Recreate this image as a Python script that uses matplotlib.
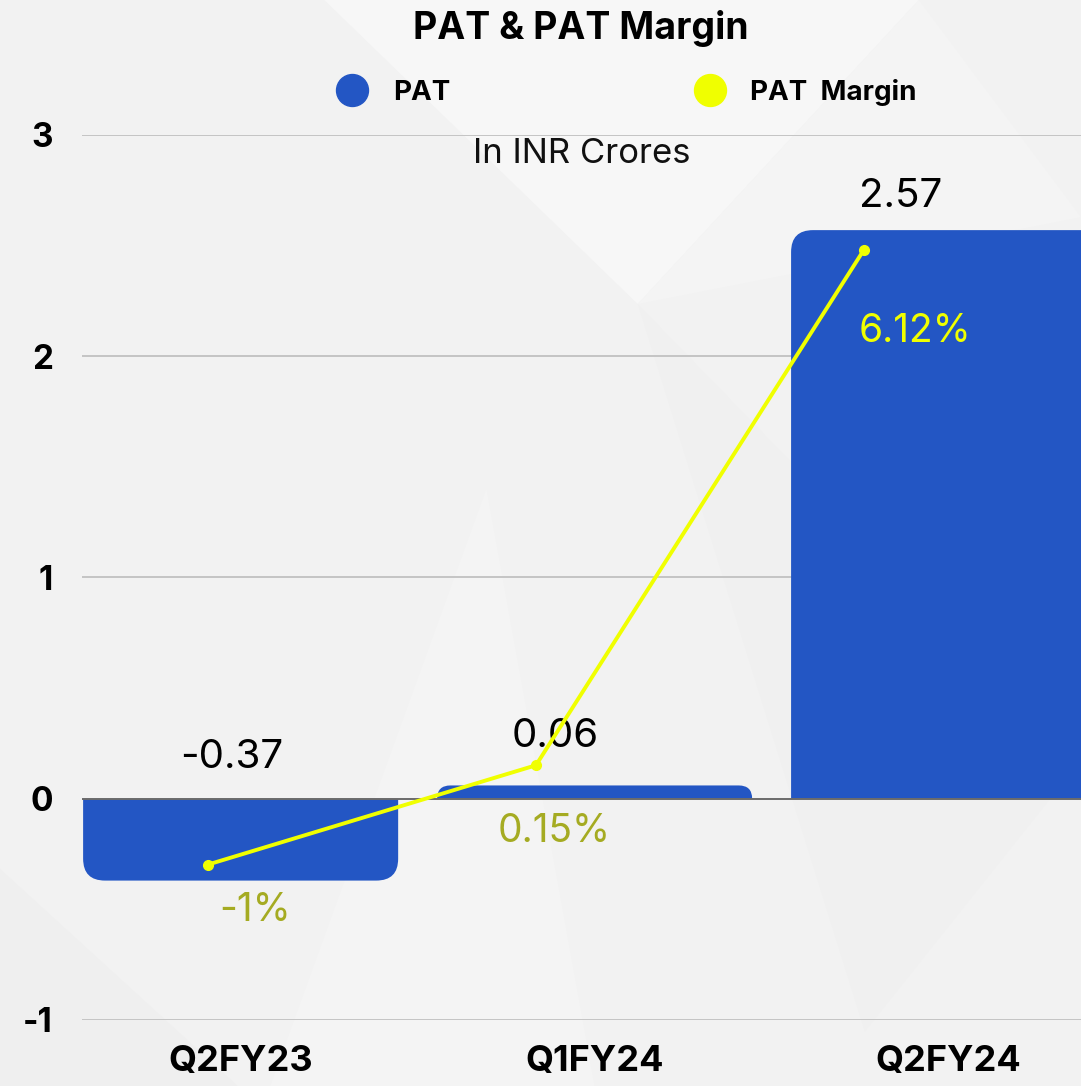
import matplotlib
matplotlib.use("Agg")
import matplotlib.pyplot as plt
from matplotlib.lines import Line2D
from matplotlib.patches import PathPatch, Polygon
from matplotlib.path import Path

# data
quarters = ["Q2FY23", "Q1FY24", "Q2FY24"]
pat = [-0.37, 0.06, 2.57]
pat_margin = [-1.0, 0.15, 6.12]
margin_labels = ["-1%", "0.15%", "6.12%"]
yticks = [-1, 0, 1, 2, 3]

BLUE = "#2356C4"
YELLOW = "#F0FF00"
OLIVE = "#A5AB22"
FONT = "Inter"

plt.rcParams["font.family"] = [FONT, "DejaVu Sans"]


def rounded_bar(ax, x, width, height, rx, ry, color):
    """Bar with rounded corners on the end away from zero."""
    s = 1 if height >= 0 else -1
    if ry > abs(height):
        rx = rx * abs(height) / ry
        ry = abs(height)
    l, r = x - width / 2, x + width / 2
    verts = [(l, 0), (l, height - s * ry), (l, height), (l + rx, height),
             (r - rx, height), (r, height), (r, height - s * ry), (r, 0), (l, 0)]
    codes = [Path.MOVETO, Path.LINETO, Path.CURVE3, Path.CURVE3,
             Path.LINETO, Path.CURVE3, Path.CURVE3, Path.LINETO, Path.CLOSEPOLY]
    ax.add_patch(PathPatch(Path(verts, codes), facecolor=color,
                           edgecolor="none", zorder=2))


fig = plt.figure(figsize=(10.81, 10.86), dpi=100)
fig.patch.set_facecolor("#f2f2f2")

# faint background facets
for pts, c in [([(0.30, 1.0), (0.59, 0.72), (0.85, 1.0)], "#f7f7f7"),
               ([(0.59, 0.72), (0.85, 1.0), (1.0, 0.80)], "#f4f4f4"),
               ([(0.0, 0.20), (0.22, 0.0), (0.0, 0.0)], "#efefef"),
               ([(0.59, 0.72), (0.80, 0.05), (1.0, 0.30)], "#f0f0f0"),
               ([(0.25, 0.0), (0.45, 0.55), (0.55, 0.0)], "#f4f4f4")]:
    fig.add_artist(Polygon(pts, closed=True, transform=fig.transFigure,
                           facecolor=c, edgecolor="none", zorder=-10))

pos = [0.0759, 0.0608, 0.9241, 0.8149]
ax = fig.add_axes(pos)
ax.set_facecolor("none")
x = list(range(len(quarters)))
for xi, v in zip(x, pat):
    rounded_bar(ax, xi, 0.89, v, 0.062, 0.099, BLUE)
ax.set_xlim(-0.448, 2.374)
ax.set_ylim(-1, 3)
ax.set_yticks(yticks)
ax.set_yticklabels([str(t) for t in yticks], fontsize=24, fontweight="bold")
ax.set_xticks(x)
ax.set_xticklabels(quarters, fontsize=26, fontweight="bold")
ax.tick_params(length=0)
ax.tick_params(axis="y", pad=21)
ax.tick_params(axis="x", pad=18)
for sp in ax.spines.values():
    sp.set_visible(False)
for t in yticks:
    ax.axhline(t, color="#6b6b6b" if t == 0 else "#c4c4c4",
               lw=1.4, zorder=1 if t else 3)

bar_offsets = [(-9, 41), (-39, 49), (-48, 34)]
for xi, v, off in zip(x, pat, bar_offsets):
    base = max(v, 0)
    ax.annotate(f"{v:.2f}", (xi, base), xytext=off, textcoords="offset pixels",
                ha="center", va="center", fontsize=29, color="black", zorder=4)

ax.text(0.5, 0.979, "In INR Crores", transform=ax.transAxes, ha="center",
        va="center", fontsize=25, color="#111111")

# margin line on its own scale
ax2 = fig.add_axes(pos)
ax2.set_facecolor("none")
ax2.axis("off")
ax2.plot(x, pat_margin, color=YELLOW, lw=2.8, marker="o", ms=7,
         zorder=5, solid_capstyle="round")
ax2.set_xlim(-0.384, 2.662)
ax2.set_ylim(-2.8, 7.45)
label_offsets = [(47, -46), (18, -66), (51, -82)]
label_colors = [OLIVE, OLIVE, YELLOW]
for xi, v, lab, off, c in zip(x, pat_margin, margin_labels, label_offsets,
                              label_colors):
    ax2.annotate(lab, (xi, v), xytext=off, textcoords="offset pixels",
                 ha="center", va="center", fontsize=28, color=c, zorder=6)

fig.text(0.5375, 0.974, "PAT & PAT Margin", ha="center", va="center",
         fontsize=27, fontweight="bold")

handles = [Line2D([], [], ls="none", marker="o", ms=23, color=BLUE),
           Line2D([], [], ls="none", marker="o", ms=23, color=YELLOW)]
fig.legend(handles, ["PAT", "PAT  Margin"], loc="center",
           bbox_to_anchor=(0.574, 0.915), ncol=2, frameon=False,
           prop={"family": [FONT, "DejaVu Sans"], "weight": "bold", "size": 20},
           columnspacing=8.35, handletextpad=0.45)

fig.savefig("out.png", dpi=100, facecolor=fig.get_facecolor())
